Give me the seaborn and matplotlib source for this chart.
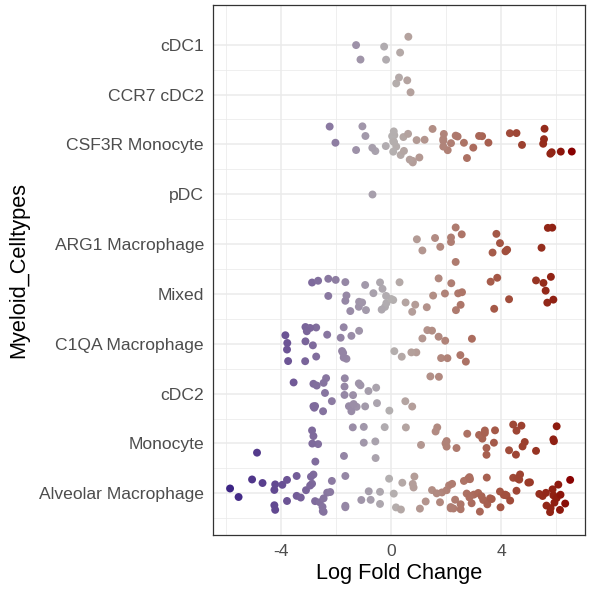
import numpy as np
import pandas as pd
import matplotlib.pyplot as plt
import seaborn as sns
from matplotlib.colors import ListedColormap, Normalize, to_rgb

celltypes = ["cDC1", "CCR7 cDC2", "CSF3R Monocyte", "pDC", "ARG1 Macrophage",
             "Mixed", "C1QA Macrophage", "cDC2", "Monocyte", "Alveolar Macrophage"]

lfc_cdc1 = [-0.25, 0.33, 0.63, -1.27, -1.11, -0.18]
lfc_ccr7_cdc2 = [0.59, 0.19, 0.29, 0.71]
lfc_csf3r_mono = [-2.23, -2.02, -1.27, -0.93, -0.57, -0.68, -1.04, 0.19, 0.12, 0.08,
                  0.04, 0.08, 0.11, 0.10, -0.19, 0.35, 0.45, 0.62, 0.93, 0.79,
                  0.79, 0.47, 0.68, 1.03, 1.22, 1.51, 2.06, 1.90, 1.90, 1.92,
                  1.90, 2.18, 2.35, 2.42, 2.65, 2.76, 2.99, 3.31, 3.20, 3.54,
                  4.32, 4.56, 4.76, 5.58, 5.53, 5.56, 5.84, 5.79, 6.17, 6.57]
lfc_pdc = [-0.68]
lfc_arg1_mac = [0.94, 1.14, 1.60, 1.79, 2.18, 2.18, 2.35, 2.57, 2.35, 3.83,
                4.16, 4.22, 3.69, 3.96, 5.47, 5.86, 5.70]
lfc_mixed = [-2.87, -2.65, -2.28, -2.01, -2.28, -1.66, -1.48, -1.66, -1.62, -1.16,
             -0.94, -0.91, -1.17, -1.05, -0.64, -0.22, -0.17, 0.08, -0.34, 0.01,
             -0.31, -0.18, -0.40, 0.31, 0.53, 0.88, 0.77, 1.30, 1.53, 1.73,
             1.96, 2.36, 2.53, 2.44, 2.58, 2.19, 3.62, 3.86, 3.75, 4.29,
             5.27, 5.62, 5.81, 5.54, 5.68, 5.90]
lfc_c1qa_mac = [-3.77, -3.84, -3.78, -3.74, -3.11, -2.72, -3.11, -2.94, -3.12, -2.84,
                -2.72, -3.06, -2.32, -1.78, -1.62, -1.83, -1.72, -1.72, -1.44, -1.74,
                -1.16, 0.12, 0.39, 0.92, 1.14, 0.74, 1.32, 1.73, 1.97, 1.82,
                1.49, 2.05, 2.52, 2.72, 2.94]
lfc_cdc2 = [-3.54, -2.82, -2.76, -2.47, -2.15, -2.40, -2.70, -2.82, -2.79, -2.36,
            -2.45, -1.53, -1.25, -1.69, -1.11, -0.82, -1.38, -1.68, -0.94, -1.69,
            -1.36, -1.17, -1.44, -0.51, -0.54, -0.06, 0.52, 0.77, 1.43, 1.74]
lfc_monocyte = [-4.87, -2.82, -2.65, -2.87, -2.75, -2.86, -1.71, -1.39, -0.99, -0.99,
                -0.56, -0.57, -0.23, 0.54, 1.09, 1.68, 1.62, 2.02, 1.98, 2.02,
                2.38, 3.32, 3.47, 3.41, 3.20, 3.47, 3.78, 3.41, 2.77, 3.74,
                4.44, 4.74, 4.86, 4.56, 4.29, 4.54, 4.78, 5.27, 5.90, 6.02, 5.92]
lfc_alveolar_mac = [-5.85, -5.54, -5.05, -4.67, -4.24, -4.21, -4.24, -4.21, -3.95, -3.78,
                    -3.78, -3.43, -3.28, -3.43, -3.09, -2.82, -2.87, -2.76, -2.91, -2.94,
                    -2.45, -2.48, -2.32, -2.59, -2.45, -2.21, -2.49, -2.15, -1.66, -1.66,
                    -1.66, -1.08, -0.81, -0.74, -0.40, -0.40, -0.07, 0.10, 0.18, 0.36,
                    0.41, 0.79, 1.05, 0.82, 0.85, 1.26, 1.49, 1.78, 1.85, 1.66,
                    2.02, 2.11, 2.27, 2.33, 2.53, 2.17, 2.22, 2.53, 2.17, 2.75,
                    2.87, 2.80, 2.93, 2.65, 3.01, 2.87, 2.85, 2.85, 3.17, 3.35,
                    3.50, 3.23, 3.48, 3.60, 3.29, 3.66, 4.10, 4.20, 3.98, 3.96,
                    4.15, 4.33, 4.44, 4.56, 4.59, 4.66, 4.69, 5.05, 4.99, 5.39,
                    5.51, 5.65, 5.63, 5.80, 5.87, 5.94, 5.90, 6.02, 6.08, 6.14,
                    6.33, 6.51, 6.16, 5.78]

values_by_type = [lfc_cdc1, lfc_ccr7_cdc2, lfc_csf3r_mono, lfc_pdc, lfc_arg1_mac,
                  lfc_mixed, lfc_c1qa_mac, lfc_cdc2, lfc_monocyte, lfc_alveolar_mac]

df = pd.DataFrame({
    "Myeloid_Celltypes": np.repeat(celltypes, [len(v) for v in values_by_type]),
    "Log Fold Change": np.concatenate(values_by_type),
})


# diverging gradient interpolated in Lab space (like ggplot's gradient2)
def _to_lab(rgb):
    c = np.array(rgb)
    c = np.where(c > 0.04045, ((c + 0.055) / 1.055) ** 2.4, c / 12.92)
    m = np.array([[0.4124, 0.3576, 0.1805], [0.2126, 0.7152, 0.0722], [0.0193, 0.1192, 0.9505]])
    xyz = m @ c / np.array([0.95047, 1.0, 1.08883])
    f = np.where(xyz > 0.008856, np.cbrt(xyz), 7.787 * xyz + 16 / 116)
    return np.array([116 * f[1] - 16, 500 * (f[0] - f[1]), 200 * (f[1] - f[2])])


def _from_lab(lab):
    fy = (lab[0] + 16) / 116
    f = np.array([fy + lab[1] / 500, fy, fy - lab[2] / 200])
    xyz = np.where(f > 0.2069, f ** 3, (f - 16 / 116) / 7.787) * np.array([0.95047, 1.0, 1.08883])
    m = np.array([[3.2406, -1.5372, -0.4986], [-0.9689, 1.8758, 0.0415], [0.0557, -0.2040, 1.0570]])
    c = m @ xyz
    c = np.where(c > 0.0031308, 1.055 * np.clip(c, 0, None) ** (1 / 2.4) - 0.055, 12.92 * c)
    return np.clip(c, 0, 1)


low, mid, high = _to_lab(to_rgb("#26127e")), _to_lab(to_rgb("#b4b1b1")), _to_lab(to_rgb("#880000"))
ramp = []
for t in np.linspace(0, 1, 256):
    if t < 0.5:
        ramp.append(_from_lab(low + (mid - low) * (t / 0.5)))
    else:
        ramp.append(_from_lab(mid + (high - mid) * ((t - 0.5) / 0.5)))
cmap = ListedColormap(ramp)
lim = np.abs(df["Log Fold Change"]).max()

sns.set_style("white")
plt.rcParams["font.family"] = ["Liberation Sans", "DejaVu Sans"]

fig, ax = plt.subplots(figsize=(6, 6), dpi=100)
fig.subplots_adjust(left=0.355, right=0.975, top=0.992, bottom=0.108)

np.random.seed(3)
sns.stripplot(
    data=df, x="Log Fold Change", y="Myeloid_Celltypes",
    hue="Log Fold Change", palette=cmap, hue_norm=Normalize(-lim, lim),
    order=celltypes, jitter=0.38, size=5.7, linewidth=0,
    legend=False, ax=ax, zorder=3,
)

# ggplot-like grid
ax.set_xlim(-6.47, 7.05)
ax.set_ylim(len(celltypes) - 1 + 0.84, -0.8)
ax.set_xticks([-4, 0, 4])
ax.set_xticks([-6, -2, 2, 6], minor=True)
ax.set_yticks(np.arange(len(celltypes)) + 0.5, minor=True)
ax.grid(which="major", color="#ebebeb", linewidth=1.1, zorder=0)
ax.grid(which="minor", color="#ebebeb", linewidth=0.55, zorder=0)
ax.set_axisbelow(True)
for s in ax.spines.values():
    s.set_color("#333333")
    s.set_linewidth(0.9)

ax.tick_params(axis="both", which="major", length=3.5, width=0.8, color="#333333",
               labelcolor="#4d4d4d", labelsize=12.6, pad=3)
ax.tick_params(axis="both", which="minor", length=0)
ax.set_xticklabels(["-4", "0", "4"])
ax.set_xlabel("Log Fold Change", fontsize=15.7, color="black", labelpad=3)
ax.set_ylabel("Myeloid_Celltypes", fontsize=15.7, color="black", labelpad=7)

fig.savefig("out.png", dpi=100, facecolor="white")
